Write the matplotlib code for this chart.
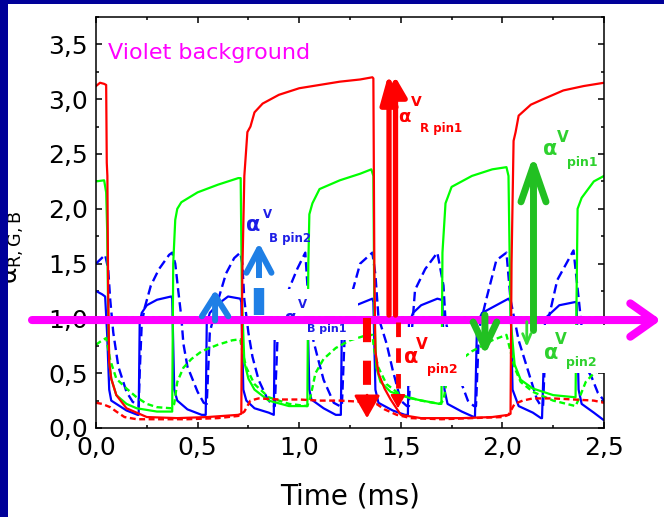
import matplotlib
matplotlib.use('Agg')
import matplotlib.pyplot as plt
from matplotlib.patches import FancyArrowPatch, Rectangle
from matplotlib.ticker import MultipleLocator, FuncFormatter

# --- traces (time in ms, alpha) ---
red_pin1_t = [0.00, 0.02, 0.04, 0.05, 0.053, 0.056, 0.06, 0.065, 0.075, 0.10,
              0.15, 0.25, 0.40, 0.55, 0.70, 0.715, 0.72, 0.73, 0.745, 0.76,
              0.78, 0.82, 0.90, 1.00, 1.10, 1.20, 1.30, 1.36, 1.365, 1.37,
              1.375, 1.39, 1.42, 1.45, 1.50, 1.60, 1.80, 1.95, 2.03, 2.04,
              2.045, 2.055, 2.065, 2.08, 2.14, 2.20, 2.30, 2.40, 2.50]
red_pin1_v = [3.12, 3.15, 3.14, 3.13, 2.42, 2.30, 1.20, 0.60, 0.45, 0.30,
              0.18, 0.10, 0.09, 0.10, 0.12, 0.13, 1.40, 2.30, 2.70, 2.75,
              2.88, 2.96, 3.04, 3.10, 3.13, 3.16, 3.18, 3.20, 3.19, 1.40,
              0.70, 0.50, 0.36, 0.26, 0.12, 0.09, 0.09, 0.10, 0.12, 0.13,
              1.50, 2.62, 2.70, 2.85, 2.95, 3.00, 3.08, 3.12, 3.15]

red_pin2_t = [0.00, 0.03, 0.07, 0.10, 0.14, 0.20, 0.30, 0.45, 0.60, 0.70,
              0.73, 0.76, 0.80, 0.90, 1.00, 1.10, 1.20, 1.30, 1.38, 1.42,
              1.48, 1.55, 1.70, 1.85, 2.00, 2.03, 2.06, 2.10, 2.15, 2.25,
              2.35, 2.45, 2.50]
red_pin2_v = [0.23, 0.22, 0.19, 0.15, 0.10, 0.08, 0.08, 0.08, 0.09, 0.11,
              0.15, 0.25, 0.27, 0.26, 0.26, 0.25, 0.25, 0.24, 0.22, 0.17,
              0.12, 0.09, 0.08, 0.09, 0.10, 0.12, 0.22, 0.25, 0.27, 0.27,
              0.26, 0.25, 0.23]

green_pin1_t = [0.00, 0.04, 0.05, 0.055, 0.06, 0.065, 0.075, 0.10, 0.15, 0.20,
                0.30, 0.375, 0.38, 0.39, 0.40, 0.42, 0.50, 0.60, 0.70, 0.712,
                0.718, 0.73, 0.75, 0.78, 0.85, 0.95, 1.04, 1.045, 1.05, 1.065,
                1.10, 1.20, 1.30, 1.355, 1.365, 1.37, 1.38, 1.40, 1.45, 1.55,
                1.69, 1.70, 1.705, 1.72, 1.75, 1.85, 1.95, 2.02, 2.03, 2.04,
                2.06, 2.09, 2.15, 2.25, 2.36, 2.365, 2.37, 2.39, 2.45, 2.50]
green_pin1_v = [2.25, 2.26, 2.15, 1.80, 1.00, 0.60, 0.45, 0.30, 0.22, 0.18,
                0.15, 0.15, 1.50, 1.90, 2.00, 2.06, 2.15, 2.22, 2.28, 2.28,
                1.20, 0.60, 0.45, 0.35, 0.25, 0.20, 0.20, 1.50, 1.95, 2.05,
                2.18, 2.26, 2.32, 2.36, 2.30, 1.00, 0.55, 0.42, 0.33, 0.27,
                0.22, 0.22, 1.60, 2.05, 2.20, 2.30, 2.36, 2.38, 2.30, 1.00,
                0.58, 0.44, 0.36, 0.30, 0.28, 1.20, 2.00, 2.10, 2.25, 2.30]

green_pin2_t = [0.00, 0.03, 0.05, 0.07, 0.10, 0.15, 0.20, 0.25, 0.30, 0.37,
                0.385, 0.40, 0.43, 0.47, 0.52, 0.60, 0.67, 0.71, 0.72, 0.74,
                0.78, 0.85, 0.95, 1.04, 1.055, 1.08, 1.12, 1.18, 1.25, 1.32,
                1.36, 1.37, 1.39, 1.43, 1.50, 1.60, 1.69, 1.71, 1.73, 1.78,
                1.85, 1.95, 2.02, 2.04, 2.06, 2.09, 2.15, 2.25, 2.36, 2.38,
                2.41, 2.45, 2.50]
green_pin2_v = [0.76, 0.80, 0.82, 0.62, 0.45, 0.36, 0.28, 0.22, 0.19, 0.18,
                0.22, 0.42, 0.55, 0.63, 0.70, 0.76, 0.80, 0.81, 0.70, 0.55,
                0.40, 0.28, 0.22, 0.20, 0.28, 0.50, 0.63, 0.73, 0.80, 0.84,
                0.85, 0.70, 0.55, 0.40, 0.30, 0.25, 0.22, 0.25, 0.48, 0.60,
                0.70, 0.80, 0.85, 0.70, 0.55, 0.42, 0.33, 0.25, 0.20, 0.28,
                0.42, 0.50, 0.55]

blue_pin1_t = [0.00, 0.03, 0.045, 0.055, 0.065, 0.075, 0.10, 0.15, 0.205, 0.21,
               0.215, 0.225, 0.25, 0.30, 0.37, 0.375, 0.385, 0.40, 0.45, 0.52,
               0.54, 0.545, 0.56, 0.60, 0.65, 0.71, 0.715, 0.725, 0.74, 0.78,
               0.85, 0.875, 0.88, 0.89, 0.93, 1.00, 1.035, 1.04, 1.05, 1.06,
               1.12, 1.18, 1.205, 1.21, 1.225, 1.28, 1.36, 1.365, 1.375, 1.39,
               1.46, 1.52, 1.535, 1.54, 1.56, 1.60, 1.68, 1.70, 1.705, 1.715,
               1.73, 1.80, 1.86, 1.865, 1.875, 1.90, 2.00, 2.03, 2.04, 2.05,
               2.08, 2.15, 2.19, 2.195, 2.21, 2.28, 2.36, 2.365, 2.375, 2.39,
               2.45, 2.50]
blue_pin1_v = [1.25, 1.22, 1.20, 0.85, 0.35, 0.25, 0.22, 0.16, 0.12, 0.12,
               0.95, 1.05, 1.12, 1.17, 1.20, 1.18, 0.35, 0.25, 0.17, 0.12,
               0.12, 0.95, 1.05, 1.13, 1.20, 1.18, 1.15, 0.35, 0.25, 0.18,
               0.14, 0.12, 0.95, 1.05, 1.12, 1.17, 1.18, 1.15, 0.35, 0.26,
               0.18, 0.12, 0.12, 0.95, 1.05, 1.12, 1.18, 1.15, 0.35, 0.23,
               0.16, 0.12, 0.12, 0.95, 1.05, 1.12, 1.18, 1.17, 1.15, 0.35,
               0.22, 0.15, 0.10, 0.10, 0.95, 1.05, 1.15, 1.18, 1.15, 0.35,
               0.20, 0.14, 0.09, 0.09, 1.00, 1.12, 1.15, 1.14, 0.35, 0.22,
               0.14, 0.07]

blue_pin2_t = [0.00, 0.045, 0.06, 0.07, 0.085, 0.11, 0.15, 0.18, 0.21, 0.215,
               0.225, 0.24, 0.27, 0.31, 0.36, 0.375, 0.39, 0.405, 0.42, 0.43,
               0.45, 0.50, 0.53, 0.545, 0.56, 0.59, 0.64, 0.68, 0.71, 0.72,
               0.73, 0.75, 0.77, 0.80, 0.84, 0.87, 0.88, 0.895, 0.95, 0.99,
               1.03, 1.045, 1.06, 1.09, 1.12, 1.17, 1.20, 1.21, 1.225, 1.24,
               1.30, 1.36, 1.375, 1.39, 1.43, 1.46, 1.50, 1.53, 1.54, 1.555,
               1.57, 1.62, 1.68, 1.71, 1.72, 1.75, 1.78, 1.83, 1.86, 1.87,
               1.885, 1.92, 1.97, 2.02, 2.04, 2.08, 2.12, 2.17, 2.19, 2.20,
               2.215, 2.27, 2.35, 2.38, 2.41, 2.44, 2.47, 2.50]
blue_pin2_v = [1.50, 1.58, 1.45, 1.17, 0.87, 0.56, 0.33, 0.24, 0.20, 0.50,
               0.95, 1.10, 1.30, 1.45, 1.58, 1.60, 1.50, 1.25, 1.01, 0.77,
               0.56, 0.33, 0.23, 0.22, 0.87, 1.10, 1.41, 1.55, 1.60, 1.50,
               1.17, 0.87, 0.65, 0.44, 0.28, 0.20, 0.20, 0.90, 1.27, 1.45,
               1.60, 1.17, 0.87, 0.65, 0.44, 0.23, 0.20, 0.20, 0.90, 1.10,
               1.50, 1.60, 1.40, 1.01, 0.77, 0.53, 0.25, 0.20, 0.20, 0.90,
               1.26, 1.45, 1.60, 1.30, 0.98, 0.74, 0.50, 0.25, 0.20, 0.20,
               0.90, 1.17, 1.53, 1.60, 1.17, 0.80, 0.56, 0.26, 0.20, 0.20,
               0.90, 1.35, 1.62, 1.10, 0.56, 0.46, 0.32, 0.25]

ref_level = 1.01

RED = '#ff0000'
GREEN = '#00ff00'
BLUE = '#0000ff'
DKGREEN = '#22c022'
LTBLUE = '#1f7fe5'
MAGENTA = '#ff00ff'
NAVY = '#000099'

plt.rcParams['mathtext.default'] = 'regular'

fig = plt.figure(figsize=(6.64, 5.17), dpi=100, facecolor='white')
ax = fig.add_axes([96/664, 1 - 428/517, 508/664, 411/517])

ax.plot(blue_pin2_t, blue_pin2_v, color=BLUE, lw=1.7, dashes=(4, 2), zorder=2)
ax.plot(blue_pin1_t, blue_pin1_v, color=BLUE, lw=1.6, zorder=2)
ax.plot(green_pin2_t, green_pin2_v, color=GREEN, lw=1.7, dashes=(2.5, 1.5), zorder=2)
ax.plot(green_pin1_t, green_pin1_v, color=GREEN, lw=1.6, zorder=2)
ax.plot(red_pin2_t, red_pin2_v, color=RED, lw=1.7, dashes=(2.5, 1.5), zorder=2)
ax.plot(red_pin1_t, red_pin1_v, color=RED, lw=1.6, zorder=2)

ax.set_xlim(0, 2.5)
ax.set_ylim(0, 3.75)
ax.xaxis.set_major_locator(MultipleLocator(0.5))
ax.xaxis.set_minor_locator(MultipleLocator(0.25))
ax.yaxis.set_major_locator(MultipleLocator(0.5))
ax.yaxis.set_minor_locator(MultipleLocator(0.25))
comma = FuncFormatter(lambda v, p: f'{v:.1f}'.replace('.', ','))
ax.xaxis.set_major_formatter(comma)
ax.yaxis.set_major_formatter(comma)
ax.set_yticks([0, 0.5, 1, 1.5, 2, 2.5, 3, 3.5])
ax.tick_params(which='both', direction='in', top=True, right=True, width=1.1)
ax.tick_params(which='major', length=4.5, labelsize=18, pad=6)
ax.tick_params(which='minor', length=2.5)
for s in ax.spines.values():
    s.set_linewidth(1.1)
ax.set_xlabel('Time (ms)', fontsize=20, labelpad=16)

fig.text(13.5/664, 1 - 247/517, r'$\alpha_{R,G,B}$', rotation=90,
         fontsize=18, ha='center', va='center', zorder=1)

# white patches behind the annotation labels
for (x0, x1, y0, y1) in [(0.817, 1.29, 0.80, 1.27),
                         (1.50, 1.82, 0.38, 0.92),
                         (2.16, 2.52, 0.50, 0.94)]:
    ax.add_patch(Rectangle((x0, y0), x1 - x0, y1 - y0, facecolor='white',
                           edgecolor='none', zorder=3, clip_on=False))

ax.axhline(ref_level, color='black', lw=1.3, ls=(0, (6, 2, 1.5, 2)), zorder=3.5)


def arrow(x, y0, y1, color, lw, style, hl, hw, z=6):
    ax.add_patch(FancyArrowPatch((x, y0), (x, y1),
                                 arrowstyle=f'{style},head_length={hl},head_width={hw}',
                                 mutation_scale=1, color=color, lw=lw,
                                 shrinkA=0, shrinkB=0, zorder=z, clip_on=False))


# violet line across the plot
arrow_y = 0.985
ax.add_patch(FancyArrowPatch((-0.315, arrow_y), (2.78, arrow_y),
                             arrowstyle='->,head_length=17,head_width=12',
                             mutation_scale=1, color=MAGENTA, lw=5.8,
                             shrinkA=0, shrinkB=0, zorder=5, clip_on=False))

# R pin1 (double up arrow)
arrow(1.442, 1.03, 3.245, RED, 3.8, '-|>', 18, 5)
arrow(1.474, 1.03, 3.20, RED, 3.8, '-|>', 12, 7)
# R pin2 (dashed down arrows)
ax.plot([1.334, 1.334], [1.00, 0.30], color=RED, lw=5.8, dashes=(3, 2.3),
        solid_capstyle='butt', zorder=6)
arrow(1.334, 0.30, 0.09, RED, 2, '-|>', 14, 8)
ax.plot([1.486, 1.486], [0.97, 0.28], color=RED, lw=3.5, dashes=(3, 2.3), zorder=6)
arrow(1.486, 0.29, 0.18, RED, 1.5, '-|>', 8, 4.5)
# G pin1 / pin2
arrow(2.153, 0.89, 2.49, DKGREEN, 5, '->', 26, 9)
arrow(1.914, 1.03, 0.665, DKGREEN, 5, '->', 18, 8.5)
arrow(2.12, 0.97, 0.74, '#33dd33', 2, '->', 7, 3)
# B pin2
arrow(0.586, 0.98, 1.26, LTBLUE, 4.3, '->', 15, 9.5)
ax.plot([0.802, 0.802], [1.03, 1.28], color=LTBLUE, lw=7.5,
        solid_capstyle='butt', zorder=6)
ax.plot([0.802, 0.802], [1.37, 1.50], color=LTBLUE, lw=4.3,
        solid_capstyle='butt', zorder=6)
arrow(0.802, 1.45, 1.69, LTBLUE, 4.3, '->', 17, 9)


def label(x, y, s, color, size, z=7):
    ax.text(x, y, s, color=color, fontsize=size, fontweight='bold',
            ha='center', va='center', zorder=z, clip_on=False)


label(0.776, 1.85, 'α', '#1e1ee6', 15)
label(0.845, 1.95, 'V', '#1e1ee6', 8.5)
label(0.955, 1.73, 'B pin2', '#1e1ee6', 8.5)
label(0.955, 1.00, 'α', '#1e1ee6', 12, z=4)
label(1.014, 1.13, 'V', '#1e1ee6', 8.5)
label(1.135, 0.90, 'B pin1', '#1e1ee6', 8)

label(1.516, 2.835, 'α', RED, 13)
label(1.575, 2.97, 'V', RED, 10)
label(1.698, 2.735, 'R pin1', RED, 8.5)
label(1.55, 0.647, 'α', RED, 15)
label(1.604, 0.766, 'V', RED, 11)
label(1.703, 0.538, 'pin2', RED, 9)

label(2.234, 2.55, 'α', '#2ed12e', 15)
label(2.298, 2.65, 'V', '#2ed12e', 11)
label(2.392, 2.425, 'pin1', '#2ed12e', 9)
label(2.239, 0.684, 'α', '#2ed12e', 15)
label(2.288, 0.811, 'V', '#2ed12e', 11)
label(2.387, 0.60, 'pin2', '#2ed12e', 9)

ax.text(0.059, 3.364, 'Violet background', color=MAGENTA, fontsize=16,
        ha='left', va='baseline')

# slide border
fig.add_artist(Rectangle((0, 0), 7.5/664, 1, transform=fig.transFigure,
                         facecolor=NAVY, edgecolor='none', zorder=10))
fig.add_artist(Rectangle((0, 1 - 4/517), 1, 4/517, transform=fig.transFigure,
                         facecolor=NAVY, edgecolor='none', zorder=10))

fig.savefig('out.png', dpi=100)
